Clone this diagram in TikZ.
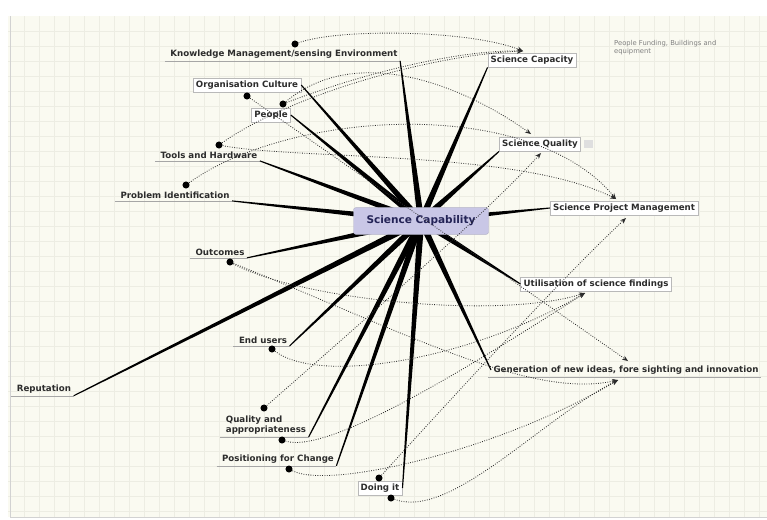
\documentclass[tikz,border=0pt]{standalone}
\usepackage{fontspec}
\setmainfont{DejaVu Sans}
\usetikzlibrary{calc,arrows.meta}

\definecolor{paper}{HTML}{FAFAF1}
\definecolor{gridc}{HTML}{EDEDE3}
\definecolor{hubfill}{HTML}{C9C7E6}
\definecolor{ink}{HTML}{2C2C2C}

% tapered spoke from the hub to one end
\newcommand\spoke[2]{\fill[black] ($(#1)!2.8pt!90:(#2)$) -- ($(#2)!0.45pt!-90:(#1)$) -- ($(#2)!0.45pt!90:(#1)$) -- ($(#1)!2.8pt!-90:(#2)$) -- cycle;}

\begin{document}
\begin{tikzpicture}[x=0.03cm,y=-0.03cm,
  leaf/.style={font=\bfseries\fontsize{7.4}{8.8}\selectfont, text=ink, inner sep=2pt},
  boxed/.style={leaf, draw=gray!55, fill=white, inner sep=2.5pt},
  hubnode/.style={font=\bfseries\fontsize{9}{11}\selectfont, text=ink!80!blue, fill=hubfill, draw=hubfill!70!gray, rounded corners=2pt, minimum width=4.05cm, minimum height=0.8cm},
  note/.style={font=\fontsize{5.8}{7}\selectfont, text=gray, align=left, inner sep=0pt},
  rel/.style={ink, line width=0.7pt, dash pattern=on 0.7pt off 1.3pt, -{Stealth[length=5pt,width=4pt]}},
  blob/.style={circle, fill=black, inner sep=0pt, minimum size=6pt},
  underl/.style={gray!70, line width=0.4pt}]
\useasboundingbox (0,0) rectangle (767,519);
\fill[white] (0,0) rectangle (767,519);
\fill[paper] (8,16) rectangle (767,517);
\foreach \gx in {24,39,...,767} \draw[gridc, line width=0.3pt] (\gx,16) -- (\gx,517);
\foreach \gy in {31,46,...,517} \draw[gridc, line width=0.3pt] (8,\gy) -- (767,\gy);
\draw[gray!35] (10,16) -- (10,517) -- (767,517);

\coordinate (hub) at (421,221);

\node[leaf] (km) at (284,54) {Knowledge Management/sensing Environment};
\node[boxed] (oc) at (247,85) {Organisation Culture};
\node[boxed] (ppl) at (271,115) {People};
\node[leaf] (tools) at (209,155) {Tools and Hardware};
\node[leaf] (pi) at (175,195) {Problem Identification};
\node[leaf] (out) at (220,252) {Outcomes};
\node[leaf] (eu) at (263,340) {End users};
\node[leaf] (rep) at (44,389) {Reputation};
\node[leaf, align=left] (qa) at (266,425) {Quality and\\appropriateness};
\node[leaf] (pos) at (278,459) {Positioning for Change};
\node[boxed] (doing) at (380,488) {Doing it};
\node[boxed] (cap) at (532,60) {Science Capacity};
\node[boxed] (sq) at (540,144) {Science Quality};
\node[boxed] (spm) at (624,208) {Science Project Management};
\node[boxed] (util) at (596,284) {Utilisation of science findings};
\node[leaf] (gen) at (626,370) {Generation of new ideas, fore sighting and innovation};
\node[note, anchor=north west] (fund) at (614,40) {People Funding, Buildings and\\equipment};
\fill[gray!25] ($(sq.east)+(3,-4)$) rectangle ++(9,8);

\foreach \n in {km,tools,pi,out,eu,rep,qa,pos,gen}
  \draw[underl] ($(\n.south west)+(-3,0)$) -- (\n.south east);

\foreach \e in {km.south east,oc.east,ppl.east,tools.south east,pi.south east,out.south east,eu.south east,rep.south east,qa.south east,pos.south east,doing.east,cap.south west,sq.south west,spm.west,util.west,gen.west}
  {\spoke{hub}{\e}}

\node[hubnode] (sc) at (hub) {Science Capability};

\node[blob] (kmdot) at (295,44) {};
\node[blob] (ocdot) at (247,96) {};
\node[blob] (pdot) at (283,104) {};
\node[blob] (tdot) at (219,145) {};
\node[blob] (pidot) at (186,185) {};
\node[blob] (outdot) at (230,262) {};
\node[blob] (eudot) at (272,349) {};
\node[blob] (qdot) at (264,408) {};
\node[blob] (q2dot) at (282,440) {};
\node[blob] (posdot) at (289,469) {};
\node[blob] (d1dot) at (379,478) {};
\node[blob] (d2dot) at (391,498) {};

\coordinate (capT) at (523,51);
\coordinate (sqT) at (531,134);
\coordinate (sqB) at (541,153);
\coordinate (spmT) at (616,199);
\coordinate (spmB) at (626,218);
\coordinate (utilB) at (585,293);
\coordinate (genT) at (628,361);
\coordinate (genB) at (618,380);

\draw[rel] (kmdot) .. controls (340,28) and (470,30) .. (capT);
\draw[rel] (pdot) .. controls (350,78) and (450,50) .. (capT);
\draw[rel] (tdot) .. controls (290,95) and (430,55) .. (capT);
\draw[rel] (pdot) .. controls (360,40) and (470,90) .. (sqT);
\draw[rel] (pidot) .. controls (290,110) and (530,95) .. (spmT);
\draw[rel] (tdot) .. controls (300,160) and (520,150) .. (spmT);
\draw[rel] (ocdot) -- (genT);
\draw[rel] (outdot) .. controls (300,300) and (500,320) .. (utilB);
\draw[rel] (outdot) .. controls (400,330) and (530,400) .. (genB);
\draw[rel] (eudot) .. controls (320,385) and (470,360) .. (utilB);
\draw[rel] (qdot) .. controls (330,350) and (480,220) .. (sqB);
\draw[rel] (q2dot) .. controls (330,455) and (480,360) .. (utilB);
\draw[rel] (posdot) .. controls (330,490) and (500,450) .. (genB);
\draw[rel] (d1dot) .. controls (450,400) and (560,280) .. (spmB);
\draw[rel] (d2dot) .. controls (450,520) and (540,420) .. (genB);
\end{tikzpicture}
\end{document}
